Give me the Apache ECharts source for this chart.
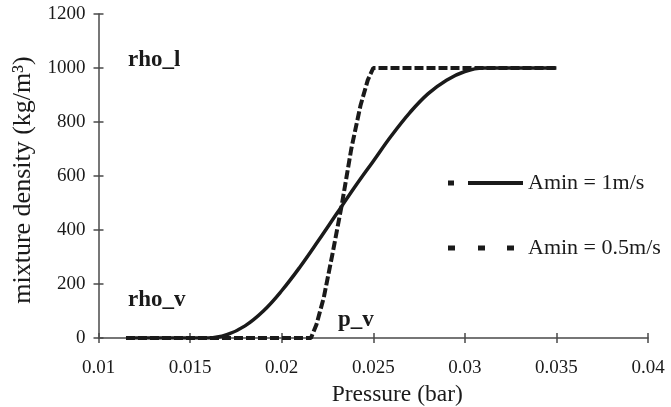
<!DOCTYPE html>
<html>
<head>
<meta charset="utf-8">
<script src="https://cdn.jsdelivr.net/npm/echarts@6/dist/echarts.min.js"></script>
<style>html,body{margin:0;padding:0;background:#fff}#c{width:671px;height:407px}</style>
</head>
<body>
<div id="c"></div>
<script>
// Data
const solidPressure = [0.0115, 0.016, 0.017, 0.018, 0.019, 0.020, 0.021, 0.022, 0.023, 0.024, 0.025, 0.026, 0.027, 0.028, 0.029, 0.030, 0.031, 0.035];
const solidDensity  = [0, 0, 12, 45, 100, 175, 263, 360, 460, 560, 655, 750, 835, 905, 955, 987, 1000, 1000];
const dashedPressure = [0.0115, 0.0216, 0.0219, 0.0223, 0.0228, 0.0233, 0.0238, 0.0243, 0.0247, 0.0250, 0.035];
const dashedDensity  = [0, 0, 50, 150, 320, 500, 700, 860, 955, 1000, 1000];
const seriesNames = ['Amin = 1m/s', 'Amin = 0.5m/s'];
const xTitle = 'Pressure (bar)';
const yTitle = 'mixture density (kg/m³)';
const annotations = ['rho_l', 'rho_v', 'p_v'];

const FONT = '"Liberation Serif", "DejaVu Serif", serif';
const INK = '#1a1a1a';
const AX = '#4a4a4a';
const zip = (a, b) => a.map((v, i) => [v, b[i]]);

const chart = echarts.init(document.getElementById('c'), null, {renderer: 'canvas'});
const xBase = {type: 'value', min: 0.01, max: 0.04, interval: 0.005, splitLine: {show: false}};
const yBase = {type: 'value', min: 0, max: 1200, interval: 200, splitLine: {show: false}};
chart.setOption({
  animation: false,
  backgroundColor: '#fff',
  grid: {left: 98.5, right: 23, top: 14, bottom: 69, containLabel: false, outerBoundsMode: 'none'},
  xAxis: [
    Object.assign({}, xBase, {
      position: 'bottom',
      axisLine: {lineStyle: {color: AX, width: 1.5}},
      axisTick: {inside: false, length: 5, lineStyle: {color: AX, width: 1.5}},
      axisLabel: {margin: 21, fontFamily: FONT, fontSize: 19, color: INK,
        formatter: v => String(+v.toFixed(3))},
      name: xTitle, nameLocation: 'middle', nameGap: 45,
      nameTextStyle: {fontFamily: FONT, fontSize: 23.5, color: INK, padding: [0, 0, 0, 48]}
    }),
    Object.assign({}, xBase, {
      position: 'bottom',
      axisLine: {show: false},
      axisTick: {inside: true, length: 5, lineStyle: {color: AX, width: 1.5}},
      axisLabel: {show: false}
    })
  ],
  yAxis: [
    Object.assign({}, yBase, {
      position: 'left',
      axisLine: {show: true, lineStyle: {color: AX, width: 1.5}},
      axisTick: {show: true, inside: false, length: 5, lineStyle: {color: AX, width: 1.5}},
      axisLabel: {margin: 13, fontFamily: FONT, fontSize: 19, color: INK, formatter: v => String(v)},
      name: yTitle, nameLocation: 'middle', nameGap: 58, nameRotate: 90,
      nameTextStyle: {fontFamily: FONT, fontSize: 26, color: INK, padding: [0, 8, 0, 0]}
    }),
    Object.assign({}, yBase, {
      position: 'left',
      axisLine: {show: false},
      axisTick: {show: true, inside: true, length: 5, lineStyle: {color: AX, width: 1.5}},
      axisLabel: {show: false}
    })
  ],
  legend: {
    orient: 'vertical', left: 448, top: 172, itemGap: 43, padding: 0,
    itemWidth: 75, itemHeight: 5,
    textStyle: {fontFamily: FONT, fontSize: 22, color: INK},
    data: [
      {name: seriesNames[0], icon: 'path://M0,0.5h6v5h-6z M20,1h55v4h-55z'},
      {name: seriesNames[1], icon: 'path://M0,0.5h7v5h-7z M30,0.5h7v5h-7z M59,0.5h7v5h-7z M74.9,3h0.1v0.1h-0.1z'}
    ]
  },
  series: [
    {
      name: seriesNames[0], type: 'line', xAxisIndex: 0, yAxisIndex: 0,
      data: zip(solidPressure, solidDensity),
      showSymbol: false, symbol: 'none', smooth: 0.4,
      color: INK, lineStyle: {color: INK, width: 3.5}
    },
    {
      name: seriesNames[1], type: 'line', xAxisIndex: 0, yAxisIndex: 0,
      data: zip(dashedPressure, dashedDensity),
      showSymbol: false, symbol: 'none',
      color: INK, lineStyle: {color: INK, width: 4, type: [9, 3]}
    }
  ],
  graphic: [
    {type: 'text', left: 128, top: 49, style: {text: annotations[0], font: 'bold 23px ' + FONT, fill: INK}},
    {type: 'text', left: 128, top: 289, style: {text: annotations[1], font: 'bold 23px ' + FONT, fill: INK}},
    {type: 'text', left: 338, top: 309, style: {text: annotations[2], font: 'bold 23px ' + FONT, fill: INK}}
  ]
});
</script>
</body>
</html>
